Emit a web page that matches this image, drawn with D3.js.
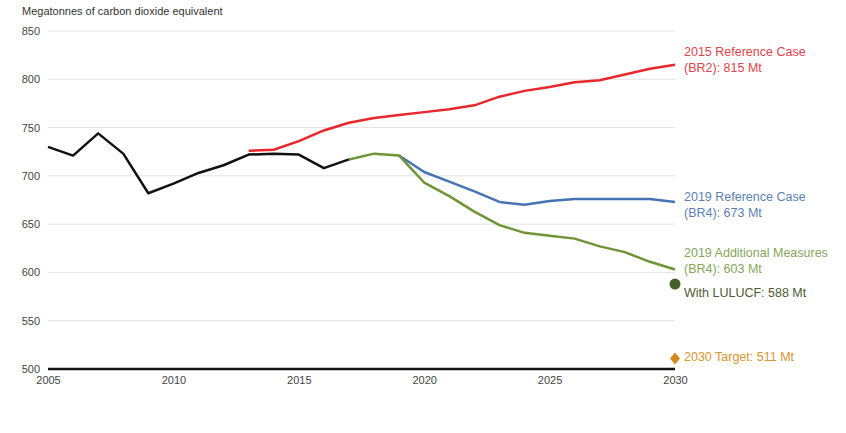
<!DOCTYPE html>
<html><head><meta charset="utf-8">
<script src="https://cdn.jsdelivr.net/npm/d3@7"></script>
<style>body{margin:0;background:#fff;font-family:"Liberation Sans",Arial,sans-serif;}</style>
</head><body><svg id="c" width="846" height="433"></svg>
<script>
const histYears = [2005,2006,2007,2008,2009,2010,2011,2012,2013,2014,2015,2016,2017];
const histValues = [730,721,744,723,682,692,703,711,722,723,722,708,717];
const ref2015Years = [2013,2014,2015,2016,2017,2018,2019,2020,2021,2022,2023,2024,2025,2026,2027,2028,2029,2030];
const ref2015Values = [726,727,736,747,755,760,763,766,769,773,782,788,792,797,799,805,811,815];
const ref2019Years = [2019,2020,2021,2022,2023,2024,2025,2026,2027,2028,2029,2030];
const ref2019Values = [721,704,694,684,673,670,674,676,676,676,676,673];
const addYears = [2017,2018,2019,2020,2021,2022,2023,2024,2025,2026,2027,2028,2029,2030];
const addValues = [717,723,721,693,679,663,649,641,638,635,627,621,611,603];
const lulucf = {year:2030, value:588};
const target = {year:2030, value:511};
const yTicks = [500,550,600,650,700,750,800,850];
const xTicks = [2005,2010,2015,2020,2025,2030];

const svg = d3.select("#c");
const x = d3.scaleLinear().domain([2005,2030]).range([48,675]);
const y = d3.scaleLinear().domain([500,850]).range([369,31]);

svg.append("text").attr("x",22).attr("y",15).attr("font-size",11).attr("fill","#333")
  .text("Megatonnes of carbon dioxide equivalent");

const yAxis = d3.axisLeft(y).tickValues(yTicks).tickSize(0).tickPadding(8);
const gy = svg.append("g").attr("transform","translate(48,0)").call(yAxis);
gy.select(".domain").remove();
gy.selectAll("text").attr("font-size",11).attr("fill","#444").attr("font-family","Liberation Sans, Arial, sans-serif");

svg.append("g").selectAll("line").data(yTicks.filter(d=>d>500)).join("line")
  .attr("x1",48).attr("x2",675).attr("y1",d=>y(d)).attr("y2",d=>y(d))
  .attr("stroke","#e3e3e3").attr("stroke-width",1);

svg.append("line").attr("x1",48).attr("x2",675).attr("y1",y(500)).attr("y2",y(500))
  .attr("stroke","#111").attr("stroke-width",2.5);

const xAxis = d3.axisBottom(x).tickValues(xTicks).tickFormat(d3.format("d")).tickSize(0).tickPadding(7);
const gx = svg.append("g").attr("transform",`translate(0,${y(500)})`).call(xAxis);
gx.select(".domain").remove();
gx.selectAll("text").attr("font-size",11).attr("fill","#444").attr("font-family","Liberation Sans, Arial, sans-serif");

const line = d3.line().x(d=>x(d[0])).y(d=>y(d[1]));
function draw(years, vals, color){
  svg.append("path").datum(years.map((yr,i)=>[yr,vals[i]])).attr("d",line)
    .attr("fill","none").attr("stroke",color).attr("stroke-width",2.5).attr("stroke-linejoin","round");
}
draw(ref2015Years, ref2015Values, "#e8262c");
draw(ref2019Years, ref2019Values, "#4673b3");
draw(addYears, addValues, "#6f9537");
draw(histYears, histValues, "#111");

svg.append("circle").attr("cx",x(lulucf.year)).attr("cy",y(lulucf.value)).attr("r",5.5).attr("fill","#45602a");
svg.append("path").attr("d","M0,-6L5,0L0,6L-5,0Z")
  .attr("transform",`translate(${x(target.year)},${y(target.value)})`).attr("fill","#d4871c");

function label(lines, yy, color){
  const t = svg.append("text").attr("x",684).attr("y",yy).attr("font-size",12.5).attr("fill",color);
  lines.forEach((l,i)=>t.append("tspan").attr("x",684).attr("dy",i?16:0).text(l));
}
label(["2015 Reference Case","(BR2): "+ref2015Values[ref2015Values.length-1]+" Mt"], 56, "#e0434a");
label(["2019 Reference Case","(BR4): "+ref2019Values[ref2019Values.length-1]+" Mt"], 201, "#5b7fb6");
label(["2019 Additional Measures","(BR4): "+addValues[addValues.length-1]+" Mt"], 257, "#87a55b");
label(["With LULUCF: "+lulucf.value+" Mt"], 297, "#4d5b36");
label(["2030 Target: "+target.value+" Mt"], 361, "#d8962f");
</script></body></html>
